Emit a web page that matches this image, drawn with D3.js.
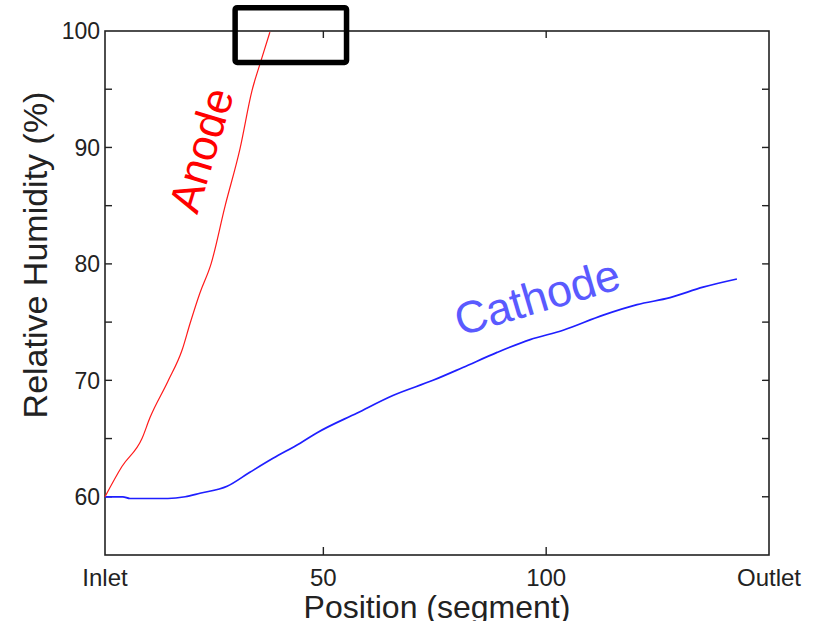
<!DOCTYPE html>
<html>
<head>
<meta charset="utf-8">
<script src="https://cdn.jsdelivr.net/npm/d3@7"></script>
<style>
  body { margin: 0; background: #fff; }
  svg { display: block; }
</style>
</head>
<body>
<div class="chart"></div>
<script>
// values
const anodeX = [1, 4.8, 9.3, 11.1, 15.1, 18.3, 20.1, 22.3, 24.8, 27.9, 31.3, 34.0, 35.8, 38.0];
const anodeY = [60, 62.6, 65.0, 66.8, 69.9, 72.6, 74.9, 77.5, 80.0, 84.9, 89.9, 94.9, 97.2, 99.9];

const cathodeX = [1, 5, 6.6, 15.1, 19, 22.3, 28.4, 33.5, 38.7, 44.8, 48.6, 57.6, 65.6, 74.6,
                  81.3, 89.0, 96.4, 103.8, 112.8, 120.4, 127.8, 135.2, 142.8];
const cathodeY = [60, 60, 59.85, 59.85, 60, 60.3, 60.9, 62.1, 63.3, 64.6, 65.5, 67.2, 68.7, 70.0,
                  71.1, 72.4, 73.5, 74.3, 75.6, 76.5, 77.1, 78.0, 78.7];

const xTicks = [1, 50, 100, 150];
const xTickLabels = ["Inlet", "50", "100", "Outlet"];
const yTicks = [60, 70, 80, 90, 100];
const yMinorTicks = [60, 65, 70, 75, 80, 85, 90, 95];

const width = 817;
const height = 621;
const margin = {top: 31, right: 48, bottom: 66, left: 105};

const x = d3.scaleLinear().domain([1, 150]).range([margin.left, width - margin.right]);
const y = d3.scaleLinear().domain([55, 100]).range([height - margin.bottom, margin.top]);

const svg = d3.select('.chart')
              .append('svg')
              .attr('width', width)
              .attr('height', height)
              .style('font-family', '"Liberation Sans", Arial, sans-serif');

const axisColor = '#222';

// frame
svg.append('rect')
   .attr('x', x(1))
   .attr('y', y(100))
   .attr('width', x(150) - x(1))
   .attr('height', y(55) - y(100))
   .attr('fill', 'none')
   .attr('stroke', axisColor)
   .attr('stroke-width', 1.6);

// inward ticks, left and right
const yt = svg.append('g').attr('stroke', axisColor).attr('stroke-width', 1.4);
yMinorTicks.forEach(v => {
  yt.append('line').attr('x1', x(1)).attr('x2', x(1) + 7).attr('y1', y(v)).attr('y2', y(v));
  yt.append('line').attr('x1', x(150)).attr('x2', x(150) - 7).attr('y1', y(v)).attr('y2', y(v));
});
[50, 100].forEach(v => {
  yt.append('line').attr('x1', x(v)).attr('x2', x(v)).attr('y1', y(55)).attr('y2', y(55) - 8);
  yt.append('line').attr('x1', x(v)).attr('x2', x(v)).attr('y1', y(100)).attr('y2', y(100) + 7);
});

// tick labels
svg.append('g').selectAll('text')
   .data(yTicks)
   .join('text')
   .attr('x', x(1) - 5)
   .attr('y', d => y(d))
   .attr('dy', '0.36em')
   .attr('text-anchor', 'end')
   .attr('fill', axisColor)
   .style('font-size', '23px')
   .text(d => d);

svg.append('g').selectAll('text')
   .data(xTicks)
   .join('text')
   .attr('x', d => x(d))
   .attr('y', 586)
   .attr('text-anchor', 'middle')
   .attr('fill', axisColor)
   .style('font-size', '24px')
   .text((d, i) => xTickLabels[i]);

// axis titles
svg.append('text')
   .attr('transform', 'translate(47,255) rotate(-90)')
   .attr('text-anchor', 'middle')
   .attr('fill', axisColor)
   .style('font-size', '34px')
   .text('Relative Humidity (%)');

svg.append('text')
   .attr('x', 437)
   .attr('y', 618)
   .attr('text-anchor', 'middle')
   .attr('fill', axisColor)
   .style('font-size', '32px')
   .text('Position (segment)');

// lines
const line = d3.line().curve(d3.curveMonotoneX).x(d => x(d[0])).y(d => y(d[1]));

svg.append('path')
   .datum(d3.zip(cathodeX, cathodeY))
   .attr('fill', 'none')
   .attr('stroke', '#1f1fff')
   .attr('stroke-width', 1.7)
   .attr('d', line);

svg.append('path')
   .datum(d3.zip(anodeX, anodeY))
   .attr('fill', 'none')
   .attr('stroke', '#ff1a1a')
   .attr('stroke-width', 1.2)
   .attr('d', line);

// curve labels
svg.append('text')
   .attr('transform', 'translate(201,150) rotate(-73)')
   .attr('text-anchor', 'middle')
   .attr('dy', '0.35em')
   .attr('fill', '#ff0000')
   .style('font-size', '44px')
   .text('Anode');

svg.append('text')
   .attr('transform', 'translate(537,297) rotate(-16.5)')
   .attr('text-anchor', 'middle')
   .attr('dy', '0.35em')
   .attr('fill', '#5a5aff')
   .style('font-size', '45px')
   .text('Cathode');

// highlight box near the top of the anode curve
svg.append('rect')
   .attr('x', x(30.2))
   .attr('y', y(102))
   .attr('width', x(55.2) - x(30.2))
   .attr('height', y(97.3) - y(102))
   .attr('rx', 2)
   .attr('fill', 'none')
   .attr('stroke', '#000')
   .attr('stroke-width', 5.5);
</script>
</body>
</html>
